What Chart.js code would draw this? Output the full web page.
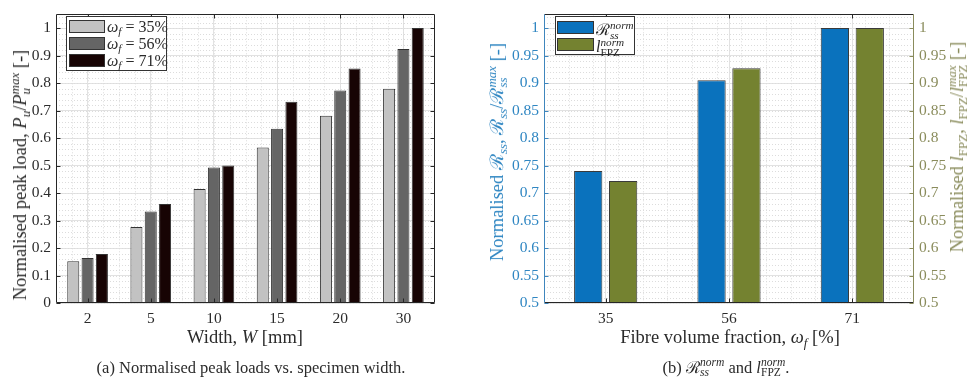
<!DOCTYPE html>
<html>
<head>
<meta charset="utf-8">
<script src="https://cdn.jsdelivr.net/npm/chart.js@4/dist/chart.umd.min.js"></script>
<style>
  html, body { margin: 0; padding: 0; background: #fff; }
  #wrap { position: relative; width: 971px; height: 385px; overflow: hidden; background: #fff;
          font-family: "Liberation Serif", "DejaVu Serif", serif; color: #2b2b2b; }
  canvas { position: absolute; top: 0; }
  .rot { position: absolute; white-space: nowrap; transform: translate(-50%, -50%) rotate(-90deg); font-size: 18.5px; line-height: 1; }
  .xt { position: absolute; white-space: nowrap; transform: translate(-50%, -50%); font-size: 18.5px; line-height: 1; }
  .cap { position: absolute; white-space: nowrap; transform: translate(-50%, -50%); font-size: 16.5px; line-height: 1; }
  sub { font-size: 70%; line-height: 0; vertical-align: -0.3em; }
  sup { font-size: 70%; line-height: 0; vertical-align: 0.5em; }
  .ss { display: inline-flex; flex-direction: column; font-size: 70%; line-height: 0.85; vertical-align: 0.55em; text-align: left; }
  .legend { position: absolute; background: #fff; border: 1px solid #333; box-sizing: border-box; }
  .legend .row { position: absolute; white-space: nowrap; font-size: 16px; line-height: 1; }
  .legend .sw { position: absolute; border: 1px solid #333; box-sizing: border-box; }
</style>
</head>
<body>
<div id="wrap">
  <canvas id="c1" width="480" height="350" style="left:0"></canvas>
  <canvas id="c2" width="491" height="350" style="left:480px"></canvas>

  <div class="rot" style="left:20px; top:175px;">Normalised peak load, <i>P</i><sub><i>u</i></sub>/<i>P</i><span class="ss"><i>max</i><i>u</i></span> [-]</div>
  <div class="xt" style="left:245px; top:337px;">Width, <i>W</i> [mm]</div>
  <div class="cap" style="left:251px; top:368px;">(a) Normalised peak loads vs. specimen width.</div>

  <div class="rot" style="left:497px; top:152px; color:#2f86c2;">Normalised ℛ<sub><i>ss</i></sub>, ℛ<sub><i>ss</i></sub>/ℛ<span class="ss"><i>max</i><i>ss</i></span> [-]</div>
  <div class="rot" style="left:957px; top:147px; color:#8a8c5c;">Normalised <i>l</i><sub>FPZ</sub>, <i>l</i><sub>FPZ</sub>/<i>l</i><span class="ss"><i>max</i><span>FPZ</span></span> [-]</div>
  <div class="xt" style="left:730px; top:337px;">Fibre volume fraction, <i>ω<sub>f</sub></i> [%]</div>
  <div class="cap" style="left:726px; top:368px;">(b) ℛ<span class="ss"><i>norm</i><i>ss</i></span> and <i>l</i><span class="ss"><i>norm</i><span>FPZ</span></span>.</div>

  <div id="leg1" class="legend" style="left:66px; top:16px; width:101px; height:55px;"></div>
  <div id="leg2" class="legend" style="left:555px; top:16px; width:80px; height:39px;"></div>
</div>

<script>
// ---- data: normalised peak load per specimen width ----
const widths = ['2', '5', '10', '15', '20', '30'];
const peak35 = [0.152, 0.276, 0.415, 0.566, 0.681, 0.779];
const peak56 = [0.164, 0.333, 0.493, 0.634, 0.773, 0.924];
const peak71 = [0.178, 0.360, 0.500, 0.732, 0.853, 1.000];
const peakLabels = ['ω_f = 35%', 'ω_f = 56%', 'ω_f = 71%'];
const peakTicks = [0, 0.1, 0.2, 0.3, 0.4, 0.5, 0.6, 0.7, 0.8, 0.9, 1];

// ---- data: normalised steady-state R-curve value and FPZ length per fibre fraction ----
const fibreFractions = ['35', '56', '71'];
const rssNorm = [0.740, 0.905, 1.000];
const lfpzNorm = [0.722, 0.927, 1.000];
const normTicks = [0.5, 0.55, 0.6, 0.65, 0.7, 0.75, 0.8, 0.85, 0.9, 0.95, 1];

const FONT = { family: '"Liberation Serif", "DejaVu Serif", serif', size: 15.5 };
const TXT = '#2b2b2b';
const BLUE = '#0a72bd';
const OLIVE = '#748230';
const BLUE_TXT = '#2f86c2';
const OLIVE_TXT = '#8a8c5c';

const fmt = v => String(+(+v).toFixed(2));
const fixTicks = vals => scale => { scale.ticks = vals.map(v => ({ value: v })); };

// dotted minor grid, drawn through the scales before the bars
function minorGrid(xStep, yStep) {
  return {
    id: 'minorGrid',
    beforeDatasetsDraw(chart) {
      const { ctx, chartArea: a } = chart;
      const xs = chart.scales.x, ys = chart.scales.y;
      ctx.save();
      ctx.strokeStyle = '#dcdcdc';
      ctx.lineWidth = 1;
      ctx.setLineDash([1, 2]);
      ctx.beginPath();
      for (let v = ys.min; v <= ys.max + 1e-9; v += yStep) {
        const y = Math.round(ys.getPixelForValue(v)) + 0.5;
        ctx.moveTo(a.left, y); ctx.lineTo(a.right, y);
      }
      const n = chart.data.labels.length;
      for (let v = -0.5; v <= n - 0.5 + 1e-9; v += xStep) {
        const x = Math.round(xs.getPixelForValue(v)) + 0.5;
        if (x <= a.left + 1 || x >= a.right - 1) continue;
        ctx.moveTo(x, a.top); ctx.lineTo(x, a.bottom);
      }
      ctx.stroke();
      ctx.restore();
    }
  };
}

// axes box with inward tick marks
function axesBox(leftColor, rightColor) {
  return {
    id: 'axesBox',
    afterDraw(chart) {
      const { ctx, chartArea: a } = chart;
      const xs = chart.scales.x, ys = chart.scales.y;
      const L = Math.round(a.left) + 0.5, R = Math.round(a.right) - 0.5;
      const T = Math.round(a.top) + 0.5, B = Math.round(a.bottom) - 0.5;
      const tl = 4;
      ctx.save();
      ctx.lineWidth = 1;
      ctx.strokeStyle = '#262626';
      ctx.beginPath();
      ctx.moveTo(L, T); ctx.lineTo(R, T);
      ctx.moveTo(L, B); ctx.lineTo(R, B);
      chart.data.labels.forEach((_, i) => {
        const x = Math.round(xs.getPixelForValue(i)) + 0.5;
        ctx.moveTo(x, T); ctx.lineTo(x, T + tl);
        ctx.moveTo(x, B); ctx.lineTo(x, B - tl);
      });
      ctx.stroke();
      ctx.strokeStyle = leftColor;
      ctx.beginPath();
      ctx.moveTo(L, T); ctx.lineTo(L, B);
      ys.ticks.forEach(t => {
        const y = Math.round(ys.getPixelForValue(t.value)) + 0.5;
        ctx.moveTo(L, y); ctx.lineTo(L + tl, y);
      });
      ctx.stroke();
      ctx.strokeStyle = rightColor;
      ctx.beginPath();
      ctx.moveTo(R, T); ctx.lineTo(R, B);
      ys.ticks.forEach(t => {
        const y = Math.round(ys.getPixelForValue(t.value)) + 0.5;
        ctx.moveTo(R, y); ctx.lineTo(R - tl, y);
      });
      ctx.stroke();
      ctx.restore();
    }
  };
}

// legend box filled from the chart's own datasets
function htmlLegend(el, chart, fmtLabel, geom) {
  chart.data.datasets.forEach((ds, i) => {
    const sw = document.createElement('div');
    sw.className = 'sw';
    sw.style.left = geom.swLeft + 'px';
    sw.style.top = (geom.top + i * geom.step) + 'px';
    sw.style.width = geom.swW + 'px';
    sw.style.height = geom.swH + 'px';
    sw.style.background = ds.backgroundColor;
    el.appendChild(sw);
    const row = document.createElement('div');
    row.className = 'row';
    row.style.left = geom.txLeft + 'px';
    row.style.top = (geom.top + i * geom.step + geom.txDy) + 'px';
    row.innerHTML = fmtLabel(ds.label);
    el.appendChild(row);
  });
}

const common = {
  responsive: false,
  animation: false,
  devicePixelRatio: 1,
  plugins: { legend: { display: false }, tooltip: { enabled: false } }
};

// ---- left chart ----
const chart1 = new Chart(document.getElementById('c1'), {
  type: 'bar',
  data: {
    labels: widths,
    datasets: [
      { label: peakLabels[0], data: peak35, backgroundColor: '#c2c2c2' },
      { label: peakLabels[1], data: peak56, backgroundColor: '#656565' },
      { label: peakLabels[2], data: peak71, backgroundColor: '#170404' }
    ].map(d => Object.assign(d, { borderColor: '#333', borderWidth: 1, categoryPercentage: 0.68, barPercentage: 0.84 }))
  },
  options: Object.assign({}, common, {
    layout: { padding: { left: 0, right: 45, top: 8, bottom: 0 } },
    scales: {
      x: {
        offset: true,
        grid: { display: true, offset: false, color: '#e2e2e2', drawTicks: false },
        border: { display: false },
        ticks: { font: FONT, color: TXT, padding: 7 },
        afterFit: s => { s.height = 47; }
      },
      y: {
        min: 0, max: 1.05,
        afterBuildTicks: fixTicks(peakTicks),
        grid: { color: '#e2e2e2', drawTicks: false },
        border: { display: false },
        ticks: { font: FONT, color: TXT, padding: 5, callback: v => fmt(v) },
        afterFit: s => { s.width = 56; }
      }
    }
  }),
  plugins: [minorGrid(0.25, 0.02), axesBox('#262626', '#262626')]
});

// ---- right chart ----
const chart2 = new Chart(document.getElementById('c2'), {
  type: 'bar',
  data: {
    labels: fibreFractions,
    datasets: [
      { label: 'R_ss^norm', data: rssNorm, backgroundColor: BLUE, yAxisID: 'y' },
      { label: 'l_FPZ^norm', data: lfpzNorm, backgroundColor: OLIVE, yAxisID: 'y2' }
    ].map(d => Object.assign(d, { borderColor: '#3a3a3a', borderWidth: 1, categoryPercentage: 0.566, barPercentage: 0.81 }))
  },
  options: Object.assign({}, common, {
    layout: { padding: { left: 0, right: 0, top: 8, bottom: 0 } },
    scales: {
      x: {
        offset: true,
        grid: { display: true, offset: false, color: '#e2e2e2', drawTicks: false },
        border: { display: false },
        ticks: { font: FONT, color: TXT, padding: 7 },
        afterFit: s => { s.height = 47; }
      },
      y: {
        position: 'left',
        min: 0.5, max: 1.025,
        afterBuildTicks: fixTicks(normTicks),
        grid: { color: '#e2e2e2', drawTicks: false },
        border: { display: false },
        ticks: { font: FONT, color: BLUE_TXT, padding: 5, callback: v => fmt(v) },
        afterFit: s => { s.width = 64; }
      },
      y2: {
        position: 'right',
        min: 0.5, max: 1.025,
        afterBuildTicks: fixTicks(normTicks),
        grid: { display: false, drawTicks: false },
        border: { display: false },
        ticks: { font: FONT, color: OLIVE_TXT, padding: 5, callback: v => fmt(v) },
        afterFit: s => { s.width = 57; }
      }
    }
  }),
  plugins: [minorGrid(0.2, 0.01), axesBox('#3f86bd', '#8a8c5c')]
});

htmlLegend(document.getElementById('leg1'), chart1,
  l => { const m = l.match(/^ω_f = (.*)$/); return '<i>ω<sub>f</sub></i> = ' + m[1]; },
  { swLeft: 2, swW: 36, swH: 13, top: 3, step: 17, txLeft: 40, txDy: -1 });

htmlLegend(document.getElementById('leg2'), chart2,
  l => l.startsWith('R') ? 'ℛ<span class="ss"><i>norm</i><i>ss</i></span>' : '<i>l</i><span class="ss"><i>norm</i><span>FPZ</span></span>',
  { swLeft: 1, swW: 37, swH: 13, top: 4, step: 17, txLeft: 40, txDy: 0 });
</script>
</body>
</html>
